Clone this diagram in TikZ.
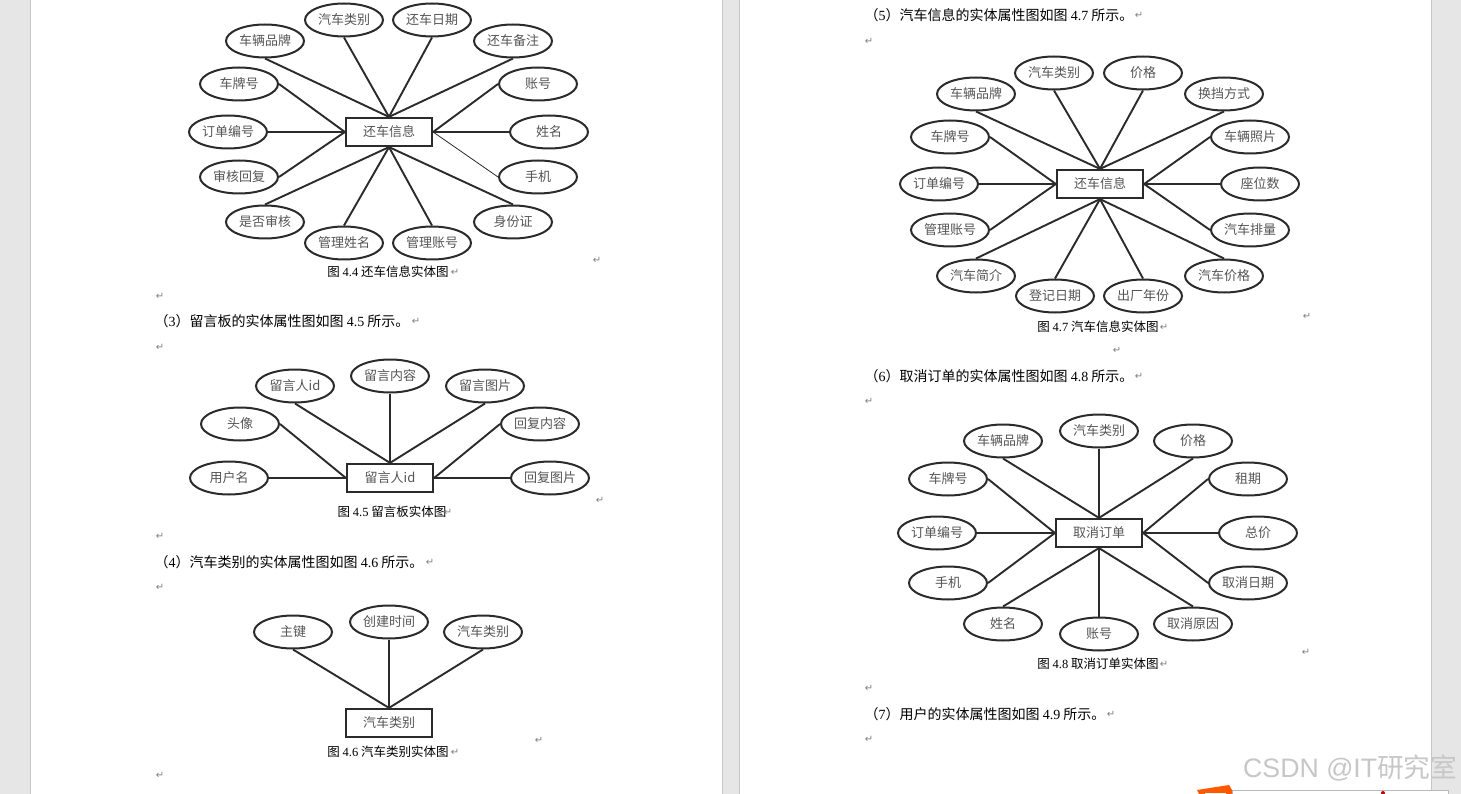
\documentclass[tikz,border=0pt]{standalone}
\usepackage{fontspec}
\setmainfont{Noto Sans CJK SC}
\newfontfamily\latinf{Liberation Serif}
\newfontfamily\marksf{DejaVu Sans}
\newfontfamily\wmf{Liberation Sans}
\usetikzlibrary{shapes.geometric}
\definecolor{paneback}{HTML}{E6E6E6}
\definecolor{pageedge}{HTML}{C6C6C6}
\definecolor{inkline}{HTML}{2B2B2B}
\definecolor{labelink}{HTML}{555555}
\tikzset{
  x=1pt,y=-1pt,
  attr/.style={draw=inkline,line width=2pt,ellipse,minimum width=78pt,minimum height=33pt,inner sep=0pt,fill=white,font=\fontsize{13}{15}\selectfont,text=labelink},
  entity/.style={draw=inkline,line width=2.2pt,rectangle,minimum width=86pt,minimum height=28pt,inner sep=0pt,fill=white,font=\fontsize{13}{15}\selectfont,text=labelink},
  link/.style={draw=inkline,line width=1.9pt},
  thinlink/.style={draw=inkline,line width=.8pt},
  caption/.style={font=\fontsize{12.5}{14}\selectfont,text=black,inner sep=0pt},
  para/.style={font=\fontsize{14}{16}\selectfont,text=black,inner sep=0pt,anchor=west},
  retmark/.style={font=\marksf\fontsize{10}{11}\selectfont,text=gray,inner sep=0pt},
}
\newcommand{\num}[1]{{\latinf #1}}
\newcommand{\lab}[1]{\lower.8pt\hbox{#1}}
\begin{document}
\begin{tikzpicture}
\useasboundingbox (0,0) rectangle (1461,794);
% window and pages
\fill[paneback] (0,0) rectangle (1461,794);
\draw[pageedge,fill=white,line width=.8pt] (30,-2) rectangle (722,796);
\draw[pageedge,fill=white,line width=.8pt] (739,-2) rectangle (1431,796);

% Figure 4.4
\node[entity] (e44) at (389,132) {\lab{还车信息}};
\foreach \n/\x/\y/\t/\a/\b in {
  a1/265/41/车辆品牌/north/south, a2/344/20/汽车类别/north/south, a3/432/20/还车日期/north/south, a4/513/41/还车备注/north/south,
  a5/538/84/账号/east/west, a6/549/132/姓名/east/west,
  a8/513/222/身份证/south/north, a9/432/243/管理账号/south/north, a10/344/243/管理姓名/south/north, a11/265/222/是否审核/south/north,
  a12/239/177/审核回复/west/east, a13/228/132/订单编号/west/east, a14/239/84/车牌号/west/east}{
  \node[attr] (\n) at (\x,\y) {\lab{\t}};
  \draw[link] (e44.\a) -- (\n.\b);
}
\node[attr] (a7) at (538,177) {\lab{手机}};
\draw[thinlink] (e44.east) -- (a7.west);

% Figure 4.5
\node[entity] (e45) at (390,478) {\lab{留言人id}};
\foreach \n/\x/\y/\t/\a/\b in {
  b1/229/478/用户名/west/east, b2/240/424/头像/west/east, b3/295/386/留言人id/north/south, b4/390/376/留言内容/north/south,
  b5/485/386/留言图片/north/south, b6/540/424/回复内容/east/west, b7/550/478/回复图片/east/west}{
  \node[attr] (\n) at (\x,\y) {\lab{\t}};
  \draw[link] (e45.\a) -- (\n.\b);
}

% Figure 4.6
\node[entity] (e46) at (389,723) {\lab{汽车类别}};
\foreach \n/\x/\y/\t/\a/\b in {
  d1/293/632/主键/north/south, d2/389/622/创建时间/north/south, d3/483/632/汽车类别/north/south}{
  \node[attr] (\n) at (\x,\y) {\lab{\t}};
  \draw[link] (e46.\a) -- (\n.\b);
}

% Figure 4.7
\node[entity] (e47) at (1100,184) {\lab{还车信息}};
\foreach \n/\x/\y/\t/\a/\b in {
  f1/976/94/车辆品牌/north/south, f2/1054/73/汽车类别/north/south, f3/1143/73/价格/north/south, f4/1224/94/换挡方式/north/south,
  f5/1250/137/车辆照片/east/west, f6/1260/184/座位数/east/west, f7/1250/230/汽车排量/east/west,
  f8/1224/276/汽车价格/south/north, f9/1143/296/出厂年份/south/north, f10/1055/296/登记日期/south/north, f11/976/276/汽车简介/south/north,
  f12/950/230/管理账号/west/east, f13/939/184/订单编号/west/east, f14/950/137/车牌号/west/east}{
  \node[attr] (\n) at (\x,\y) {\lab{\t}};
  \draw[link] (e47.\a) -- (\n.\b);
}

% Figure 4.8
\node[entity] (e48) at (1099,533) {\lab{取消订单}};
\foreach \n/\x/\y/\t/\a/\b in {
  g1/1003/441/车辆品牌/north/south, g2/1099/431/汽车类别/north/south, g3/1193/441/价格/north/south,
  g4/1248/479/租期/east/west, g5/1258/533/总价/east/west, g6/1248/583/取消日期/east/west,
  g7/1193/624/取消原因/south/north, g8/1099/634/账号/south/north, g9/1003/624/姓名/south/north,
  g10/948/583/手机/west/east, g11/937/533/订单编号/west/east, g12/948/479/车牌号/west/east}{
  \node[attr] (\n) at (\x,\y) {\lab{\t}};
  \draw[link] (e48.\a) -- (\n.\b);
}

% captions
\node[caption] (cap44) at (388,271.5) {图 \num{4.4} 还车信息实体图};
\node[caption] (cap45) at (392,511.5) {图 \num{4.5} 留言板实体图};
\node[caption] (cap46) at (388,752) {图 \num{4.6} 汽车类别实体图};
\node[caption] (cap47) at (1098,327) {图 \num{4.7} 汽车信息实体图};
\node[caption] (cap48) at (1098,664) {图 \num{4.8} 取消订单实体图};

% paragraphs
\node[para] (p3) at (154.5,321) {（\num{3}）留言板的实体属性图如图 \num{4.5} 所示。};
\node[para] (p4) at (154.5,562) {（\num{4}）汽车类别的实体属性图如图 \num{4.6} 所示。};
\node[para] (p5) at (864.5,15) {（\num{5}）汽车信息的实体属性图如图 \num{4.7} 所示。};
\node[para] (p6) at (864.5,376) {（\num{6}）取消订单的实体属性图如图 \num{4.8} 所示。};
\node[para] (p7) at (864.5,714) {（\num{7}）用户的实体属性图如图 \num{4.9} 所示。};

% paragraph marks
\foreach \n/\x/\y in {
  r1/597/260, r2/160/296, r3/455/272, r4/416/321, r5/160/347, r6/600/500, r7/448/512, r8/160/536,
  r9/430/562, r10/160/587, r11/539/740, r12/455/752, r13/160/775,
  r14/1139/15, r15/869/41, r16/1307/316, r17/1164/327, r18/1117/350, r19/1139/376, r20/869/401,
  r21/1306/652, r22/1164/664, r23/869/688, r24/1111/714, r25/869/739}{
  \node[retmark] (\n) at (\x,\y) {↵};
}

% bottom-right overlay
\draw[draw=black!25!blue!10!gray!50,fill=white,line width=.8pt] (1232,790) rectangle (1448,800);
\fill[orange!70!red] (1197,790) -- (1229,785) -- (1232,790) -- (1232,796) -- (1200,796) -- cycle;
\fill[white] (1205,793) rectangle (1226,796);
\fill[red!80!black] (1383,793) circle (2);
\node[font=\wmf\fontsize{26.7}{29}\selectfont,text=black!22,inner sep=0pt,anchor=west] (wm) at (1243,768) {CSDN @IT{\fontspec{Noto Sans CJK SC}研究室}};
\end{tikzpicture}
\end{document}
